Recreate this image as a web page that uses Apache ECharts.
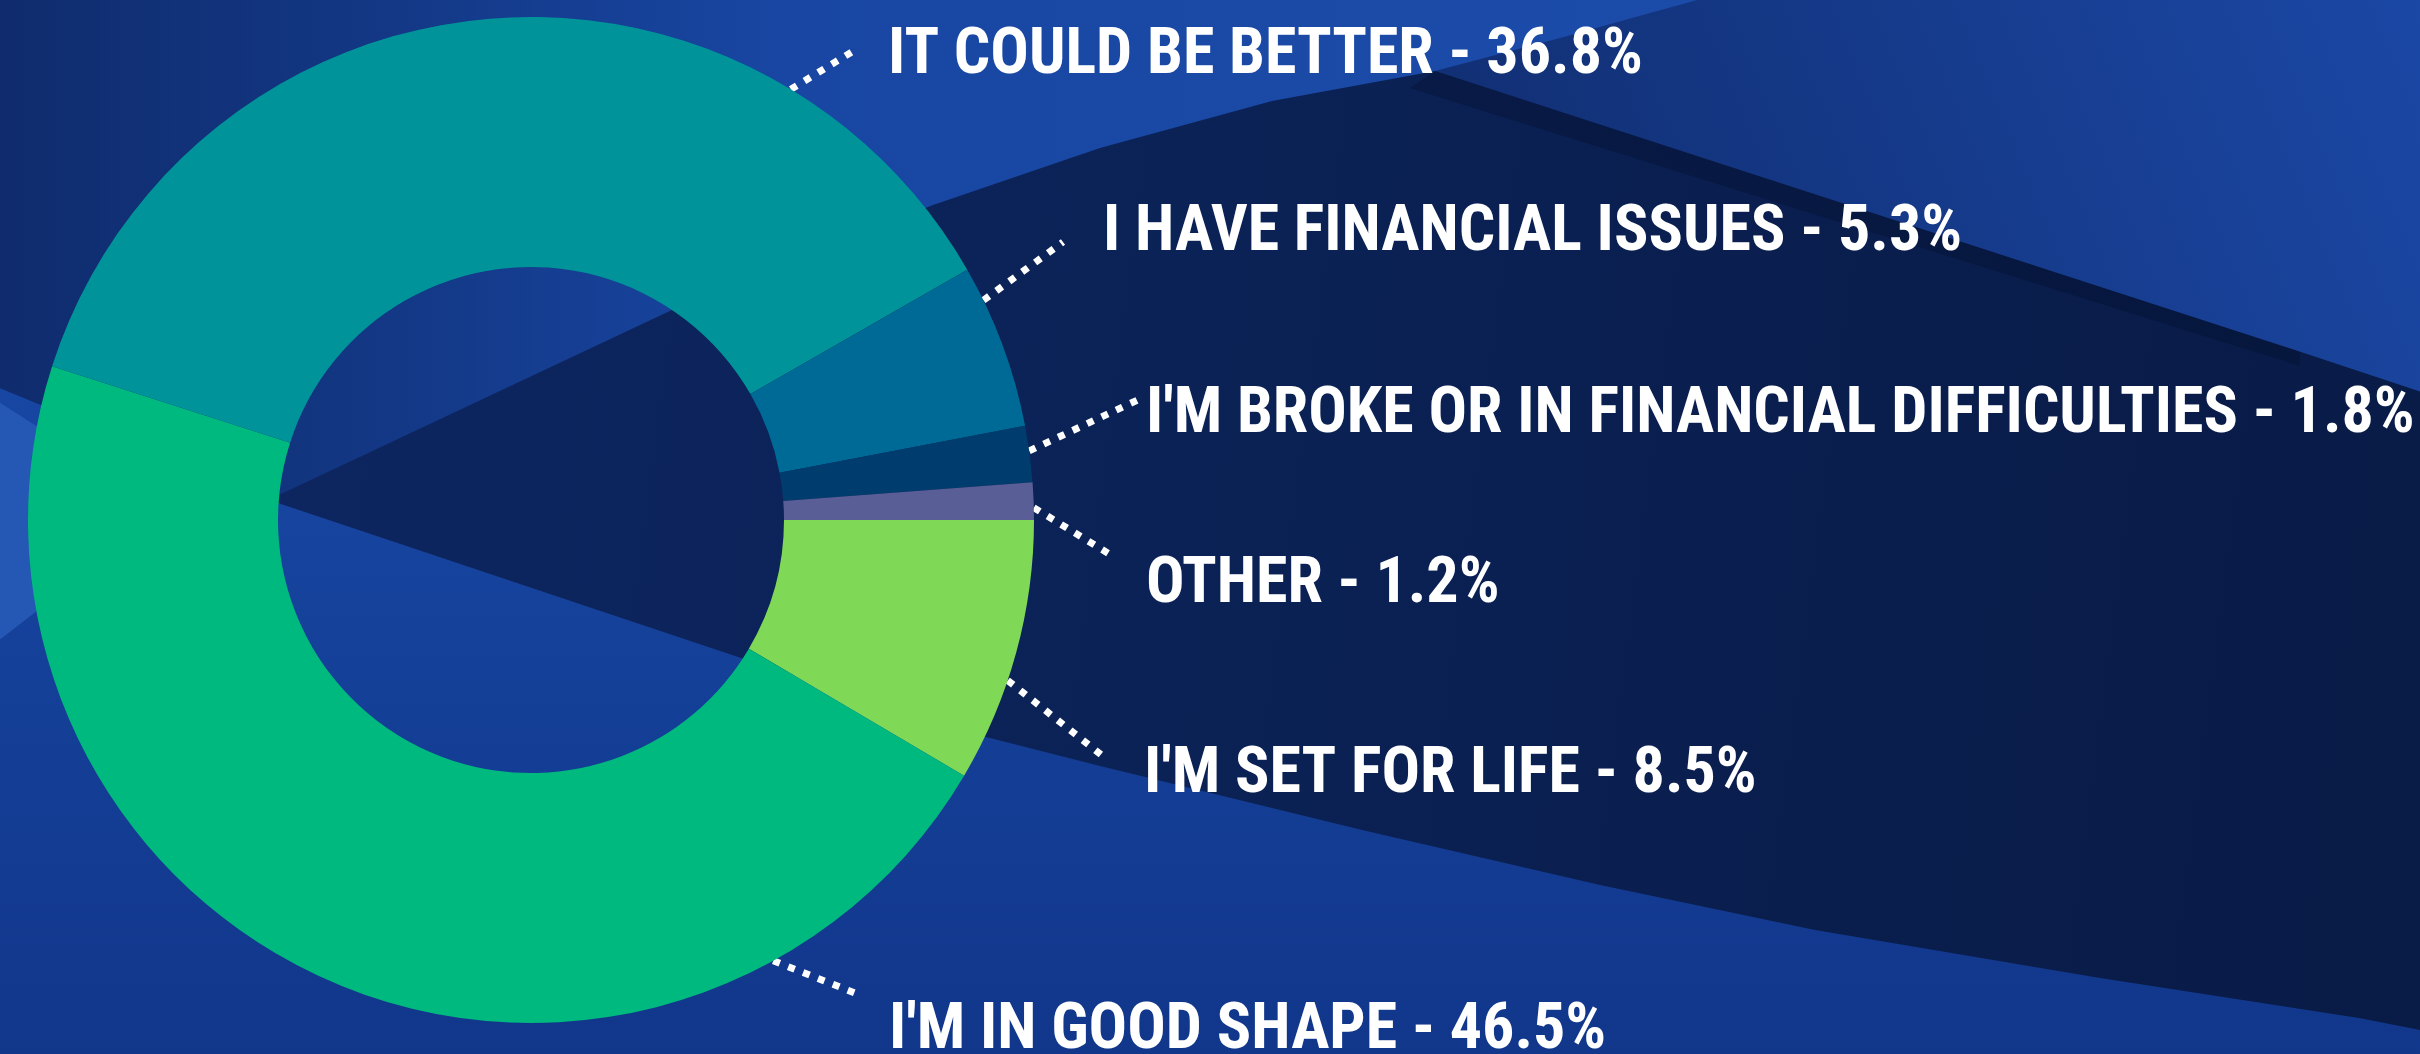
<!DOCTYPE html>
<html>
<head>
<meta charset="utf-8">
<style>
  html, body { margin: 0; padding: 0; background: #0b2156; }
  #chart { width: 2420px; height: 1054px; }
</style>
<script src="https://cdn.jsdelivr.net/npm/echarts@6/dist/echarts.min.js"></script>
</head>
<body>
<div id="chart"></div>
<script>
const categories = [
  "I'M SET FOR LIFE",
  "I'M IN GOOD SHAPE",
  'IT COULD BE BETTER',
  'I HAVE FINANCIAL ISSUES',
  "I'M BROKE OR IN FINANCIAL DIFFICULTIES",
  'OTHER'
]
const shares = [8.5, 46.5, 36.8, 5.3, 1.8, 1.2]

const sliceColors = ['#7fd957', '#00b97e', '#00949a', '#006a96', '#003d6e', '#5a5e96']
// label placement: left edge of the text and middle of the capitals
const labelLeft = [1144, 889, 888, 1103, 1146, 1146]
const labelMid = [767, 1023, 48, 225, 407, 577]
// leader line: angle where it leaves the ring (deg, clockwise from 3 o'clock),
// gap before the text, vertical offset of its end from the text middle
const leaderAngle = [18.6, 61.2, 301.1, 334.1, 352.1, 358.6]
const leaderGap = [40, 34, 33, 40, 2, 35]
const leaderDy = [-10, -30, 2, 17, -10, -22]

const CENTER = [531, 520]
const RADIUS = [253, 503]
const FONT = '"Roboto Condensed", "Liberation Sans Narrow", sans-serif'

function ringPoint(deg) {
  const a = deg * Math.PI / 180
  return [CENTER[0] + RADIUS[1] * Math.cos(a), CENTER[1] + RADIUS[1] * Math.sin(a)]
}

// decorative background swooshes
const background = [
  {
    type: 'rect', z: 0, silent: true,
    shape: { x: 0, y: 0, width: 2420, height: 1054 },
    style: { fill: new echarts.graphic.LinearGradient(0, 0, 1, 0.3, [
      { offset: 0, color: '#0e2764' },
      { offset: 0.5, color: '#0b2256' },
      { offset: 1, color: '#091b47' }
    ]) }
  },
  {
    // upper right band
    type: 'polygon', z: 0.2, silent: true,
    shape: { points: [[1435, 71], [2295, 350], [2440, 398], [2440, -20], [1435, -20]] },
    style: { fill: new echarts.graphic.LinearGradient(1, 0, 0, 1, [
      { offset: 0, color: '#1b48a6' },
      { offset: 1, color: '#102c6e' }
    ]) }
  },
  {
    // dark streak under the upper right band
    type: 'polygon', z: 0.3, silent: true,
    shape: { points: [[1435, 71], [2300, 352], [2300, 366], [1410, 88]] },
    style: { fill: 'rgba(4,14,42,0.35)' }
  },
  {
    // upper left band
    type: 'polygon', z: 0.4, silent: true,
    shape: { points: [[281, 494], [674, 309], [830, 245], [933, 205], [1100, 148], [1272, 101],
      [1435, 71], [1560, 38], [1697, 0], [1760, -20], [-20, -20], [-20, 395]] },
    style: { fill: new echarts.graphic.LinearGradient(0, 0, 1, 0, [
      { offset: 0, color: '#0f2b6c' },
      { offset: 0.22, color: '#133784' },
      { offset: 0.45, color: '#1846a2' },
      { offset: 1, color: '#1c4caa' }
    ]) }
  },
  {
    // lower band
    type: 'polygon', z: 0.5, silent: true,
    shape: { points: [[281, 504], [744, 659], [982, 736], [1100, 766], [1362, 830], [1600, 885],
      [1815, 930], [2100, 978], [2359, 1018], [2440, 1034], [2440, 1080], [-20, 1080], [-20, 380]] },
    style: { fill: new echarts.graphic.LinearGradient(0, 0, 0, 1, [
      { offset: 0, color: '#1747a3' },
      { offset: 1, color: '#11368a' }
    ]) }
  },
  {
    // bright swoosh on the left edge
    type: 'polygon', z: 0.6, silent: true,
    shape: { points: [[-20, 390], [90, 460], [90, 570], [-20, 655]] },
    style: { fill: '#2458b4' }
  }
]

const chart = echarts.init(document.getElementById('chart'), null, { renderer: 'canvas' })

const seriesData = categories.map((name, i) => ({
  name,
  value: shares[i],
  itemStyle: { color: sliceColors[i] }
}))

chart.setOption({
  animation: false,
  graphic: { elements: background },
  series: [{
    type: 'pie',
    silent: true,
    center: CENTER,
    radius: RADIUS,
    startAngle: 0,
    clockwise: true,
    avoidLabelOverlap: false,
    data: seriesData,
    itemStyle: { borderWidth: 0 },
    label: {
      show: true,
      position: 'outside',
      formatter: '{b} - {c}%',
      color: '#ffffff',
      fontFamily: FONT,
      fontWeight: 'bold',
      fontSize: 64,
      overflow: 'none'
    },
    labelLine: {
      show: true,
      length: 20,
      length2: 0,
      lineStyle: { color: '#ffffff', width: 7, type: [7, 9] }
    },
    labelLayout: (params) => {
      const i = params.dataIndex
      const end = [labelLeft[i] - leaderGap[i], labelMid[i] + leaderDy[i]]
      return {
        x: labelLeft[i],
        y: labelMid[i] + 9,
        align: 'left',
        verticalAlign: 'middle',
        labelLinePoints: [ringPoint(leaderAngle[i]), end]
      }
    }
  }]
})
</script>
</body>
</html>
